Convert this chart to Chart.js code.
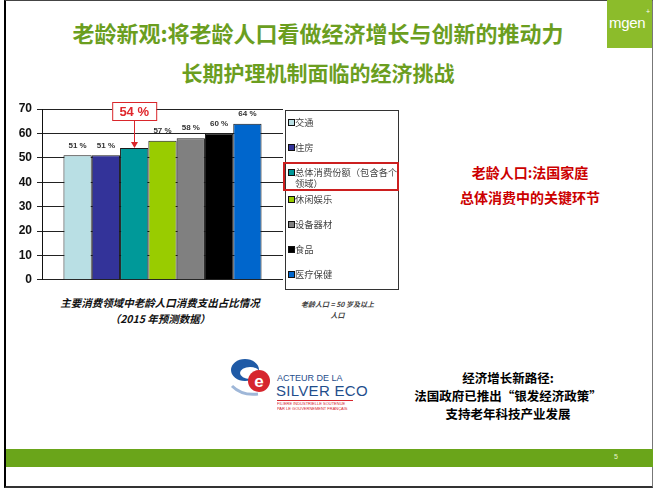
<!DOCTYPE html>
<html>
<head>
<meta charset="utf-8">
<script src="https://cdn.jsdelivr.net/npm/chart.js@4.4.1/dist/chart.umd.min.js"></script>
<style>
  body { margin: 0; width: 653px; height: 488px; position: relative; overflow: hidden; background: #fff;
         font-family: "Noto Sans CJK SC", "Liberation Sans", sans-serif; }
  .abs { position: absolute; white-space: nowrap; }
  .frame { left: 4px; top: 0; width: 646px; height: 485px; border-left: 2px solid #000; border-bottom: 2px solid #333;
           border-right: 1px solid #777; border-top: 1px solid #444; box-sizing: content-box; }
  .title { left: 0; width: 636px; text-align: center; color: #6b9e1f; font-weight: bold; line-height: 24px; }
  .brand { left: 607px; top: 0; width: 45px; height: 48px; background: #8cbc2b; overflow: hidden; }
  .brand span { position: absolute; left: 2px; top: 14px; color: #fff; font: 15px/18px "Liberation Sans", sans-serif; letter-spacing: -0.3px; }
  .brand sup { position: absolute; left: 39px; top: 8px; color: #fff; font: 7px/8px "Liberation Sans", sans-serif; }
  .band { left: 6px; top: 449px; width: 647px; height: 18px; background: #6aa51a; }
  .band span { position: absolute; left: 608px; top: 4px; color: #e8f5d0; font: 7px "Liberation Sans", sans-serif; }
  #chartBox { left: 0; top: 96px; }
  #legend { left: 285px; top: 110px; width: 114px; height: 180px; border: 1px solid #333; box-sizing: border-box; }
  .item { position: absolute; left: 2px; width: 110px; font-size: 9.3px; line-height: 11px; color: #444; white-space: normal; }
  .item i { position: absolute; left: 0; top: 2px; width: 5px; height: 5px; border: 1px solid #111; }
  .item b { display: block; margin-left: 7px; width: 104px; font-weight: normal; }
  .mark { left: 283px; top: 162px; width: 116px; height: 29px; border: 2px solid #cc1f1f; box-sizing: border-box; }
  .xtitle { left: 40px; width: 240px; text-align: center; font-weight: bold; font-style: italic; font-size: 10.5px; line-height: 15px; color: #111; }
  .note { left: 290px; width: 95px; text-align: center; font-weight: bold; font-style: italic; font-size: 7px; line-height: 10px; color: #444; }
  .red { left: 440px; width: 180px; text-align: center; color: #cc0000; font-weight: bold; font-size: 14px; line-height: 20px; }
  .path { left: 400px; width: 216px; text-align: center; color: #000; font-weight: bold; font-size: 12.5px; line-height: 18px; }
  .logo1 { left: 277px; top: 373px; color: #1f4e8c; font: 9px/10px "Liberation Sans", sans-serif; }
  .logo2 { left: 276px; top: 383px; color: #1f4e8c; font: 15px/16px "Liberation Sans", sans-serif; letter-spacing: 0.3px; }
  .logo3 { left: 277px; top: 400px; width: 76px; height: 0; border-top: 1px solid #d6262e; }
  .tiny { left: 277px; color: #d6262e; font: 8px/8px "Liberation Sans", sans-serif; transform: scale(0.5, 0.55); transform-origin: 0 0; }
</style>
</head>
<body>
<div class="abs frame"></div>
<div class="abs brand"><span>mgen</span><sup>+</sup></div>

<div class="abs title" style="top:20px;font-size:22px">老龄新观:将老龄人口看做经济增长与创新的推动力</div>
<div class="abs title" style="top:60px;font-size:21px">长期护理机制面临的经济挑战</div>

<div class="abs" id="chartBox"><canvas id="spendChart" width="290" height="196"></canvas></div>
<div class="abs" id="legend"></div>
<div class="abs mark"></div>

<div class="abs xtitle" style="top:295px">主要消费领域中老龄人口消费支出占比情况</div>
<div class="abs xtitle" style="top:311px">（2015 年预测数据）</div>
<div class="abs note" style="top:299px">老龄人口 = 50 岁及以上</div>
<div class="abs note" style="top:310px">人口</div>

<div class="abs red" style="top:162px">老龄人口:法国家庭</div>
<div class="abs red" style="top:187px">总体消费中的关键环节</div>

<svg class="abs" style="left:228px;top:356px" width="50" height="46" viewBox="0 0 50 46">
  <ellipse cx="17" cy="14" rx="14" ry="11" fill="#1f5aa6"/>
  <ellipse cx="22" cy="17" rx="10" ry="6" fill="#fff"/>
  <path d="M4 30 Q14 40 30 38" stroke="#9fb7d8" stroke-width="3" fill="none"/>
  <circle cx="31" cy="25" r="11" fill="#d6262e"/>
  <text x="31" y="31" text-anchor="middle" fill="#fff" font-family="Liberation Sans" font-weight="bold" font-size="17">e</text>
</svg>
<div class="abs logo1">ACTEUR DE LA</div>
<div class="abs logo2">SILVER ECO</div>
<div class="abs logo3"></div>
<div class="abs tiny" style="top:402px">FILIERE INDUSTRIELLE SOUTENUE</div>
<div class="abs tiny" style="top:407px">PAR LE GOUVERNEMENT FRANÇAIS</div>

<div class="abs path" style="top:369px">经济增长新路径:</div>
<div class="abs path" style="top:387px">法国政府已推出“银发经济政策”</div>
<div class="abs path" style="top:405px">支持老年科技产业发展</div>

<div class="abs band"><span>5</span></div>

<script>
// Share of seniors in household spending, by consumption area (2015 forecast)
const seriesNames = ['交通', '住房', '总体消费份额（包含各个领域）', '休闲娱乐', '设备器材', '食品', '医疗保健'];
const seriesValues = [51, 51, 54, 57, 58, 60, 64];
const seriesColors = ['#b9dfe4', '#333399', '#009999', '#99cc00', '#808080', '#000000', '#0066cc'];
const yTicks = [0, 10, 20, 30, 40, 50, 60, 70];
const highlightIndex = 2;

// Legend box on the right
const legendBox = document.getElementById('legend');
seriesNames.forEach((name, i) => {
    const row = document.createElement('div');
    row.className = 'item';
    row.style.top = (6 + i * 25 + (i > 2 ? 2 : 0)) + 'px';
    row.innerHTML = '<i style="background:' + seriesColors[i] + '"></i><b>' + name + '</b>';
    legendBox.appendChild(row);
});

// Percent labels over the bars, with a boxed callout for the overall share
const valueLabels = {
    id: 'valueLabels',
    afterDatasetsDraw(chart) {
        const ctx = chart.ctx;
        chart.data.datasets.forEach((ds, i) => {
            const bar = chart.getDatasetMeta(i).data[0];
            const text = ds.data[0] + ' %';
            ctx.save();
            ctx.textAlign = 'center';
            ctx.textBaseline = 'middle';
            if (i === highlightIndex) {
                const w = 44, h = 18, top = 6;
                ctx.fillStyle = '#fff';
                ctx.fillRect(bar.x - w / 2, top, w, h);
                ctx.strokeStyle = '#d9262b';
                ctx.lineWidth = 1;
                ctx.strokeRect(bar.x - w / 2 + 0.5, top + 0.5, w, h);
                ctx.fillStyle = '#e0262b';
                ctx.font = 'bold 13px "Liberation Sans"';
                ctx.fillText(text, bar.x, top + h / 2 + 1);
                // arrow down to the bar top
                const x = Math.round(bar.x) + 0.5;
                ctx.beginPath();
                ctx.moveTo(x, top + h);
                ctx.lineTo(x, bar.y - 5);
                ctx.stroke();
                ctx.fillStyle = '#d9262b';
                ctx.beginPath();
                ctx.moveTo(x, bar.y);
                ctx.lineTo(x - 3.5, bar.y - 6);
                ctx.lineTo(x + 3.5, bar.y - 6);
                ctx.closePath();
                ctx.fill();
            } else {
                ctx.fillStyle = '#333';
                ctx.font = 'bold 8px "Liberation Sans"';
                ctx.fillText(text, bar.x, bar.y - 10);
            }
            ctx.restore();
        });
    }
};

const datasets = seriesNames.map((name, i) => ({
    label: name,
    data: [seriesValues[i]],
    backgroundColor: seriesColors[i],
    borderColor: '#1a1a1a',
    borderWidth: 1
}));

new Chart(document.getElementById('spendChart'), {
    type: 'bar',
    data: { labels: [''], datasets: datasets },
    options: {
        responsive: false,
        animation: false,
        layout: { padding: { top: 13, right: 7, bottom: 8, left: 0 } },
        datasets: { bar: { categoryPercentage: 0.822, barPercentage: 1 } },
        plugins: { legend: { display: false }, tooltip: { enabled: false } },
        scales: {
            x: { display: false },
            y: {
                min: yTicks[0],
                max: yTicks[yTicks.length - 1],
                afterBuildTicks: (scale) => { scale.ticks = yTicks.map(v => ({ value: v })); },
                afterFit: (scale) => { scale.width = 42; },
                ticks: { padding: 5, color: '#111', font: { family: 'Liberation Sans', size: 12, weight: 'bold' } },
                grid: { color: '#222', lineWidth: 1, tickLength: 5 },
                border: { color: '#111' }
            }
        }
    },
    plugins: [valueLabels]
});
</script>
</body>
</html>
